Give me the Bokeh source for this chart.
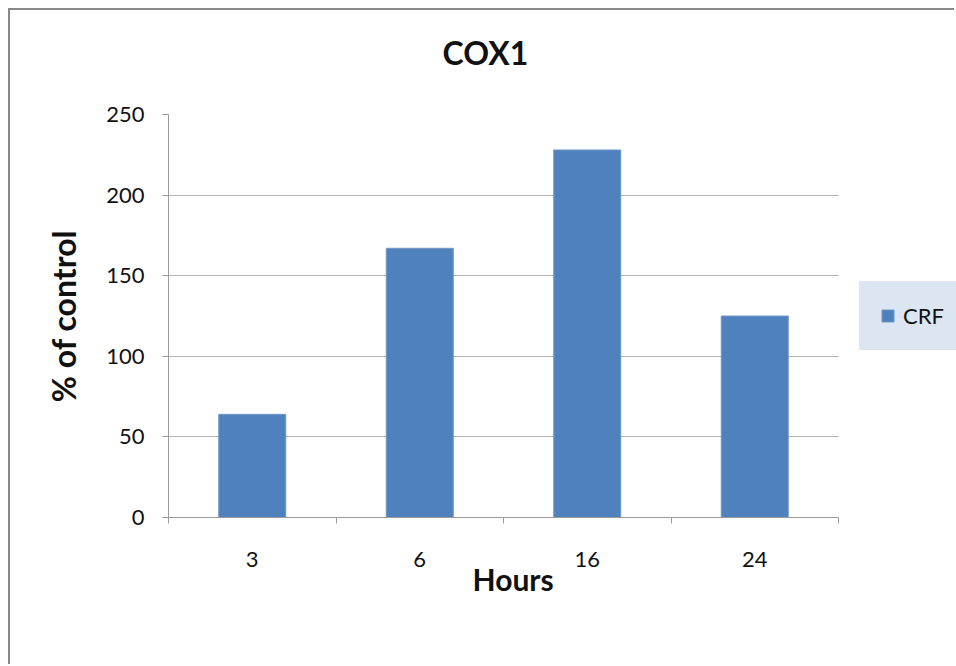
from bokeh.plotting import figure
from bokeh.models import (Range1d, FixedTicker, Legend, LegendItem, Title)
from bokeh.embed import file_html
from bokeh.resources import INLINE

# Data
hours = ["3", "6", "16", "24"]
crf_percent = [64, 167, 228, 125]
y_ticks = [0, 50, 100, 150, 200, 250]

FONT = "Lato"
BAR = "#4f81bd"
GRID = "#b3b3b3"
AXIS = "#9a9a9a"
TEXT = "#111111"
LEGEND_BG = "#dce6f2"

# one slot per category, bars centred in each slot
n = len(hours)
centers = [i + 0.5 for i in range(n)]
bounds = list(range(n + 1))

# the frame runs on to the right edge so the legend can sit beside the bars;
# the category slots take the first 670 of its 788 px
x_end = n * 788 / 670

p = figure(
    width=946, height=656, title=None,
    x_range=Range1d(0, x_end), y_range=Range1d(0, 250),
    output_backend="svg", toolbar_location=None,
    min_border_left=158, min_border_top=104,
    min_border_right=0, min_border_bottom=149,
)
p.margin = (8, 0, 0, 8)
p.styles = {"border-left": "2px solid #888888", "border-top": "2px solid #888888"}
p.outline_line_color = None
p.background_fill_color = "white"
p.border_fill_color = "white"

bars = p.vbar(x=centers, top=crf_percent, width=0.4, fill_color=BAR,
              line_color="#6f97c9", line_width=1)

# blank band between the frame and the chart title
p.add_layout(Title(text=" ", text_font=FONT, text_font_size="30px", standoff=0), "above")
# chart title
p.add_layout(Title(text="COX1", text_font=FONT, text_font_size="32px",
                   text_font_style="bold", text_color=TEXT,
                   align="left", offset=274, standoff=10), "above")

# x axis: labels at slot centres, ticks at slot boundaries
xa = p.xaxis[0]
xa.bounds = (0, n)
xa.ticker = FixedTicker(ticks=centers, minor_ticks=bounds)
xa.major_label_overrides = {c: h for c, h in zip(centers, hours)}
xa.major_tick_out = 0
xa.major_tick_in = 0
xa.minor_tick_out = 6
xa.minor_tick_in = 0
xa.minor_tick_line_color = AXIS
xa.axis_line_color = AXIS
xa.major_label_text_font = FONT
xa.major_label_text_font_size = "22px"
xa.major_label_text_color = TEXT
xa.major_label_standoff = 28

# x axis title, centred under the category slots
p.add_layout(Title(text="Hours", text_font=FONT, text_font_size="30px",
                   text_font_style="bold", text_color=TEXT,
                   align="left", offset=304, standoff=-22), "below")

# y axis
ya = p.yaxis[0]
ya.ticker = FixedTicker(ticks=y_ticks)
ya.major_tick_out = 6
ya.major_tick_in = 0
ya.minor_tick_line_color = None
ya.major_tick_line_color = AXIS
ya.axis_line_color = AXIS
ya.major_label_text_font = FONT
ya.major_label_text_font_size = "22px"
ya.major_label_text_color = TEXT
ya.major_label_standoff = 18
ya.axis_label = "% of control"
ya.axis_label_text_font = FONT
ya.axis_label_text_font_size = "32px"
ya.axis_label_text_font_style = "bold"
ya.axis_label_text_color = TEXT
ya.axis_label_standoff = 20

p.xgrid.grid_line_color = None
p.ygrid.ticker = FixedTicker(ticks=y_ticks)
p.ygrid.grid_line_color = GRID
p.ygrid.cross_bounds = (0, n)

# a wide border in the fill colour gives the legend its roomy box
legend = Legend(
    items=[LegendItem(label="CRF", renderers=[bars])],
    location=(691, 167),
    orientation="vertical",
    background_fill_color=LEGEND_BG,
    background_fill_alpha=1.0,
    border_line_color=LEGEND_BG,
    border_line_width=19,
    glyph_width=15, glyph_height=15,
    label_standoff=8,
    label_height=22,
    label_text_font=FONT,
    label_text_font_size="22px",
    label_text_color=TEXT,
    padding=2,
    margin=0,
)
p.add_layout(legend, "center")

open("out.html", "w").write(file_html(p, INLINE))
